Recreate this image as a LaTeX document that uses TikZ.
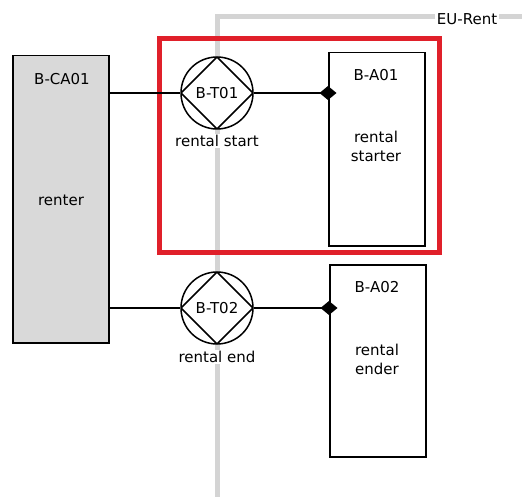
\documentclass[tikz,border=0pt]{standalone}
\usepackage{fontspec}
\setmainfont{DejaVu Sans}
\usetikzlibrary{arrows.meta,calc}
\definecolor{bordergray}{HTML}{D4D4D4}
\definecolor{actorgray}{HTML}{D9D9D9}
\definecolor{focusred}{HTML}{E0202A}
\tikzset{
  lbl/.style={font=\fontsize{15}{19}\selectfont, inner sep=1pt},
  actorbox/.style={draw, line width=1.5pt, minimum width=96pt, anchor=north west},
  transact/.style={draw, circle, line width=1.5pt, fill=white, minimum size=72pt, inner sep=0pt,
    font=\fontsize{15}{18}\selectfont,
    path picture={\draw[line width=1.5pt] (path picture bounding box.north) -- (path picture bounding box.east) -- (path picture bounding box.south) -- (path picture bounding box.west) -- cycle;}},
  link/.style={line width=1.3pt},
  exec/.style={line width=1.3pt, -{Diamond[length=17pt,width=14pt]}, shorten >=-8.5pt},
}
\begin{document}
\begin{tikzpicture}[x=1pt,y=-1pt]
\useasboundingbox (0,0) rectangle (522,497);
% EU-Rent boundary
\draw[bordergray, line width=5pt] (217,500) -- (217,17) -- (525,17);
\node[lbl, fill=white, inner sep=2pt] (eurent) at (467,19) {EU-Rent};
% focus box
\draw[focusred, line width=5pt] (159,39) rectangle (439,252);
% actors
\node[actorbox, fill=actorgray, minimum height=287pt] (renter) at (12,55) {};
\node[lbl] (renterid) at (62,79) {B-CA01};
\node[lbl] (rentername) at (61,200) {renter};
\node[actorbox, fill=white, minimum height=193pt] (a1) at (328,52) {};
\node[lbl] (a1id) at (376,75) {B-A01};
\node[lbl, align=center] (a1name) at (376,146) {rental\\starter};
\node[actorbox, fill=white, minimum height=192pt] (a2) at (329,264) {};
\node[lbl] (a2id) at (377,287) {B-A02};
\node[lbl, align=center] (a2name) at (377,359) {rental\\ender};
% transactions
\node[transact] (t1) at (217,93) {B-T01};
\node[lbl, fill=white] (t1name) at (217,141) {rental start};
\node[transact] (t2) at (217,308) {B-T02};
\node[lbl, fill=white] (t2name) at (217,357) {rental end};
% connectors
\draw[link] (renter.east |- t1) -- (t1);
\draw[exec] (t1) -- (a1.west |- t1);
\draw[link] (renter.east |- t2) -- (t2);
\draw[exec] (t2) -- (a2.west |- t2);
\end{tikzpicture}
\end{document}
